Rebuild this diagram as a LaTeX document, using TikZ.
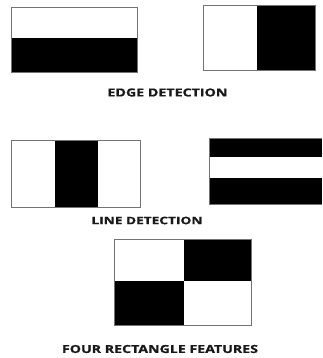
\documentclass[tikz,border=0pt]{standalone}
\usepackage{fontspec}
\usepackage{graphicx}
\newfontfamily\lblfont{Open Sans}[BoldFeatures={FakeBold=0.8}]
\begin{document}
\begin{tikzpicture}[x=1pt,y=-1pt,
  frame/.style={draw=black!55,line width=0.9pt},
  blk/.style={fill=black},
  lbl/.style={font=\lblfont\bfseries,inner sep=0pt,text=black!90}]
\useasboundingbox (0,0) rectangle (322,358);
% edge 1
\fill[blk] (11,38) rectangle (137,72);
\draw[frame] (11,7) rectangle (137,72);
% edge 2
\fill[blk] (257,5) rectangle (315,70);
\draw[frame] (203,5) rectangle (315,70);
\node[lbl] (edge) at (167.5,92.5) {\resizebox{120pt}{8pt}{EDGE DETECTION}};
% line 1
\fill[blk] (55,140) rectangle (98,207);
\draw[frame] (11,140) rectangle (140,207);
% line 2
\fill[blk] (209,138) rectangle (322,157);
\fill[blk] (209,178) rectangle (322,204);
\draw[frame] (322,138) -- (209,138) -- (209,204) -- (322,204);
\node[lbl] (line) at (147,220.5) {\resizebox{111pt}{7.5pt}{LINE DETECTION}};
% four rect
\fill[blk] (184,239) rectangle (251,281);
\fill[blk] (114,281) rectangle (184,325);
\draw[frame] (114,239) rectangle (251,325);
\node[lbl] (four) at (160,349) {\resizebox{196pt}{8pt}{FOUR RECTANGLE FEATURES}};
\end{tikzpicture}
\end{document}
